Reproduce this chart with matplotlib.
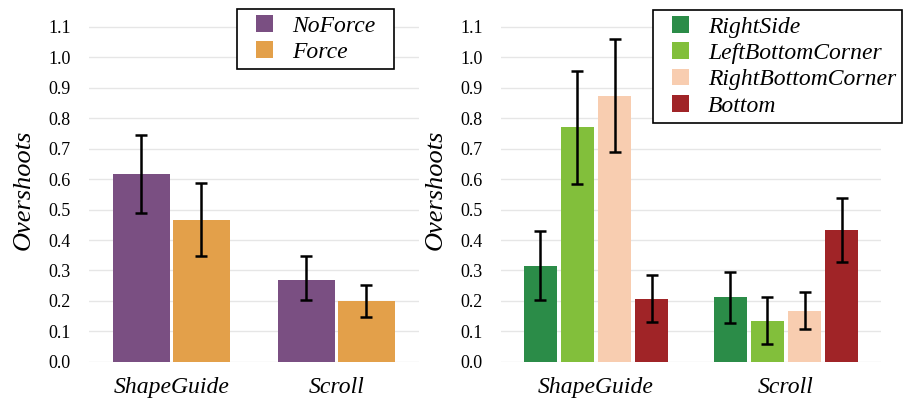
import matplotlib
matplotlib.use('Agg')
import matplotlib.pyplot as plt
import matplotlib.patches as mpatches
from matplotlib.legend_handler import HandlerPatch
import numpy as np

# --- Data ---
categories = ['ShapeGuide', 'Scroll']

left_series = ['NoForce', 'Force']
left_values = [[0.615, 0.268], [0.466, 0.200]]
left_lo = [[0.487, 0.204], [0.347, 0.148]]
left_hi = [[0.745, 0.347], [0.587, 0.251]]

right_series = ['RightSide', 'LeftBottomCorner', 'RightBottomCorner', 'Bottom']
right_values = [[0.316, 0.213], [0.769, 0.135], [0.872, 0.166], [0.206, 0.434]]
right_lo = [[0.204, 0.129], [0.585, 0.060], [0.689, 0.107], [0.130, 0.329]]
right_hi = [[0.428, 0.296], [0.955, 0.214], [1.059, 0.229], [0.284, 0.539]]

left_colors = ['#7A4F82', '#E3A04A']
right_colors = ['#2B8C48', '#82BF3B', '#F8CDB0', '#A02427']

yticks = [round(0.1 * i, 1) for i in range(12)]

plt.rcParams['font.family'] = ['Liberation Serif', 'DejaVu Serif']

fig = plt.figure(figsize=(9.06, 3.98), dpi=100)
ax_left = fig.add_axes([0.0982, 0.0905, 0.3642, 0.8658])
ax_right = fig.add_axes([0.553, 0.0905, 0.4194, 0.8658])


def draw_panel(ax, series, values, lo, hi, colors, step, width):
    x = np.arange(len(categories))
    n = len(series)
    for i, name in enumerate(series):
        offs = (i - (n - 1) / 2) * step
        vals = np.array(values[i])
        err = [vals - np.array(lo[i]), np.array(hi[i]) - vals]
        ax.bar(x + offs, vals, width, color=colors[i], zorder=2)
        ax.errorbar(x + offs, vals, yerr=err, fmt='none', ecolor='black',
                    elinewidth=1.8, capsize=4.5, capthick=1.8, zorder=3)
    ax.set_xlim(-0.5, len(categories) - 0.5)
    ax.set_ylim(0, 1.13)
    ax.set_yticks(yticks)
    ax.set_yticklabels([f'{t:.1f}' for t in yticks], fontsize=13)
    ax.set_xticks(x)
    ax.set_xticklabels(categories, fontsize=17, style='italic')
    ax.tick_params(length=0)
    ax.tick_params(axis='x', pad=11)
    ax.tick_params(axis='y', pad=13)
    ax.grid(axis='y', color='#E6E6E6', linewidth=1.0, zorder=0)
    ax.set_axisbelow(True)
    for s in ax.spines.values():
        s.set_visible(False)
    ax.set_ylabel('Overshoots', fontsize=19, style='italic', labelpad=10)


draw_panel(ax_left, left_series, left_values, left_lo, left_hi, left_colors,
           step=0.364, width=0.35)
draw_panel(ax_right, right_series, right_values, right_lo, right_hi, right_colors,
           step=0.195, width=0.178)


# square legend patch pushed to the right of its handle box
def square_patch(legend, orig_handle, xdescent, ydescent, width, height, fontsize):
    return mpatches.Rectangle((-xdescent + width - height, -ydescent), height, height)


handler = {mpatches.Rectangle: HandlerPatch(patch_func=square_patch)}
leg_kw = dict(frameon=False, handlelength=1.27, handleheight=0.72,
              handletextpad=0.8, labelspacing=0.2, borderpad=0.25,
              borderaxespad=0, handler_map=handler,
              prop={'style': 'italic', 'size': 17})


def make_legend(ax, series, colors, right_x, top_y, extra_right):
    handles = [mpatches.Rectangle((0, 0), 1, 1, facecolor=c, edgecolor='none')
               for c in colors]
    anchor_x = right_x - extra_right / fig.bbox.width
    leg = ax.legend(handles, series, loc='upper right',
                    bbox_to_anchor=(anchor_x, top_y),
                    bbox_transform=fig.transFigure, **leg_kw)
    leg.set_zorder(6)
    fig.canvas.draw()
    bb = leg.get_window_extent().transformed(fig.transFigure.inverted())
    frame = mpatches.Rectangle((bb.x0, bb.y0),
                               bb.width + extra_right / fig.bbox.width,
                               bb.height, transform=fig.transFigure,
                               facecolor='white', edgecolor='black',
                               linewidth=1.2, clip_on=False, zorder=5)
    ax.add_patch(frame)
    return leg


make_legend(ax_left, left_series, left_colors, 0.435, 0.977, 13)
make_legend(ax_right, right_series, right_colors, 0.996, 0.975, 0)

fig.savefig('out.png', dpi=100, facecolor='white')
